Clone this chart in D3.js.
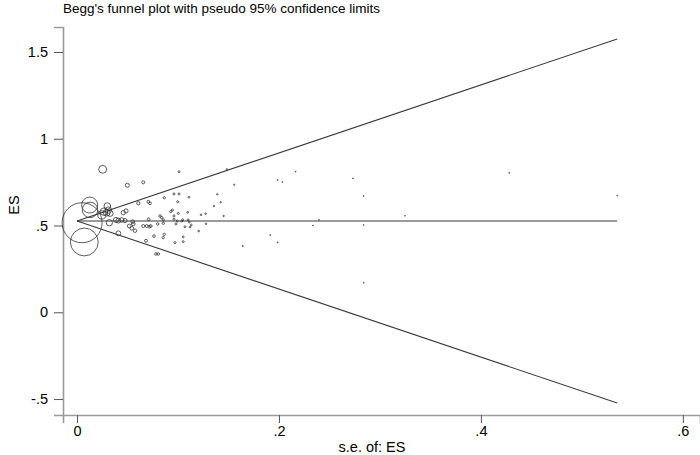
<!DOCTYPE html>
<html>
<head>
<meta charset="utf-8">
<script src="https://cdn.jsdelivr.net/npm/d3@7"></script>
<style>
  html, body { margin: 0; padding: 0; background: #fff; }
  svg { display: block; }
  text { font-family: "Liberation Sans", Arial, sans-serif; fill: #000; }
</style>
</head>
<body>
<svg id="chart" width="700" height="455"></svg>
<script>
// ---- data ----
const titleText = "Begg's funnel plot with pseudo 95% confidence limits";
const xTitle = "s.e. of: ES";
const yTitle = "ES";
const xTicks = [0, 0.2, 0.4, 0.6];
const xTickLabels = ["0", ".2", ".4", ".6"];
const yTicks = [-0.5, 0, 0.5, 1, 1.5];
const yTickLabels = ["-.5", "0", ".5", "1", "1.5"];

// pooled estimate and pseudo 95% confidence limits (end points)
const ciSe = [0, 0.535];
const ciPooled = [0.526, 0.526];
const ciUpper = [0.526, 1.575];
const ciLower = [0.526, -0.523];

// study standard errors and effect sizes
const studySe = [
  0.005, 0.0072, 0.0125, 0.0129, 0.0254, 0.101, 0.0656, 0.0498, 0.096, 0.101,
  0.0864, 0.0706, 0.0723, 0.0997, 0.0607, 0.031, 0.0294, 0.0267, 0.0245, 0.0485,
  0.0458, 0.0944, 0.0928, 0.1003, 0.096, 0.0822, 0.0839, 0.0854, 0.071, 0.096,
  0.0993, 0.1037, 0.0386, 0.0409, 0.0443, 0.0475, 0.032, 0.0551, 0.0557, 0.0656,
  0.069, 0.0716, 0.073, 0.0799, 0.0854, 0.098, 0.1069, 0.0518, 0.0542, 0.0574,
  0.0409, 0.0864, 0.0854, 0.0762, 0.0683, 0.097, 0.1052, 0.1052, 0.0782, 0.0805,
  0.030, 0.0327, 0.1483, 0.1557, 0.1987, 0.2033, 0.2165, 0.2733, 0.2839, 0.1389,
  0.1423, 0.1356, 0.1096, 0.1228, 0.1274, 0.1452, 0.1047, 0.1099, 0.1112, 0.2396,
  0.1132, 0.1119, 0.1277, 0.2337, 0.2839, 0.1205, 0.1914, 0.1987, 0.1641, 0.2839,
  0.1109, 0.3248, 0.428, 0.535
];
const studyEs = [
  0.516, 0.405, 0.618, 0.590, 0.824, 0.810, 0.749, 0.732, 0.682, 0.682,
  0.660, 0.637, 0.628, 0.637, 0.628, 0.589, 0.574, 0.580, 0.561, 0.584,
  0.574, 0.589, 0.580, 0.570, 0.555, 0.555, 0.545, 0.532, 0.536, 0.536,
  0.526, 0.526, 0.532, 0.528, 0.532, 0.528, 0.516, 0.522, 0.509, 0.497,
  0.497, 0.493, 0.497, 0.509, 0.513, 0.509, 0.493, 0.497, 0.484, 0.470,
  0.455, 0.449, 0.430, 0.439, 0.412, 0.401, 0.434, 0.407, 0.336, 0.336,
  0.612, 0.570, 0.824, 0.735, 0.762, 0.751, 0.810, 0.772, 0.670, 0.680,
  0.634, 0.612, 0.576, 0.562, 0.568, 0.555, 0.533, 0.533, 0.520, 0.532,
  0.503, 0.491, 0.510, 0.501, 0.503, 0.468, 0.445, 0.403, 0.382, 0.170,
  0.663, 0.556, 0.803, 0.672
];

// ---- drawing ----
const svg = d3.select("#chart");
const x = d3.scaleLinear().domain([-0.0139, 0.617]).range([63, 700]);
const y = d3.scaleLinear().domain([-0.592, 1.644]).range([415, 27]);
// marker area proportional to weight 1/se^2
const r = d3.scaleSqrt().domain([0, 40000]).range([0, 20]);

svg.append("text")
  .attr("x", 63).attr("y", 13)
  .attr("font-size", 13.5)
  .text(titleText);

// axes
const yAxis = d3.axisLeft(y).tickValues(yTicks)
  .tickFormat((d, i) => yTickLabels[i]).tickSizeOuter(0).tickSize(9).tickPadding(6);
const xAxis = d3.axisBottom(x).tickValues(xTicks)
  .tickFormat((d, i) => xTickLabels[i]).tickSizeOuter(0).tickSize(8).tickPadding(3);

const gy = svg.append("g").attr("transform", "translate(63,0)").call(yAxis);
const gx = svg.append("g").attr("transform", "translate(0,415)").call(xAxis);
[gx, gy].forEach(g => {
  g.select(".domain").attr("stroke", "#9a9a9a").attr("stroke-width", 1.6);
  g.selectAll(".tick line").attr("stroke", "#555").attr("stroke-width", 1);
  g.selectAll(".tick text").attr("font-size", 14.5)
    .attr("font-family", "'Liberation Sans', Arial, sans-serif").attr("fill", "#000");
});

svg.append("text")
  .attr("transform", "translate(19,205) rotate(-90)")
  .attr("text-anchor", "middle")
  .attr("font-size", 14.5)
  .text(yTitle);

svg.append("text")
  .attr("x", 372).attr("y", 452)
  .attr("text-anchor", "middle")
  .attr("font-size", 14.5)
  .text(xTitle);

// funnel lines
const line = d3.line().x(d => x(d[0])).y(d => y(d[1]));
[ciPooled, ciUpper, ciLower].forEach(arr => {
  svg.append("path")
    .datum(ciSe.map((s, i) => [s, arr[i]]))
    .attr("d", line)
    .attr("fill", "none")
    .attr("stroke", "#3a3a3a")
    .attr("stroke-width", 1.1);
});

// studies
const studies = studySe.map((s, i) => ({ se: s, es: studyEs[i] }));
svg.append("g").selectAll("circle")
  .data(studies)
  .join("circle")
  .attr("cx", d => x(d.se))
  .attr("cy", d => y(d.es))
  .attr("r", d => Math.max(0.45, r(1 / (d.se * d.se))))
  .attr("fill", "none")
  .attr("stroke", "#333")
  .attr("stroke-width", 0.8);
</script>
</body>
</html>
